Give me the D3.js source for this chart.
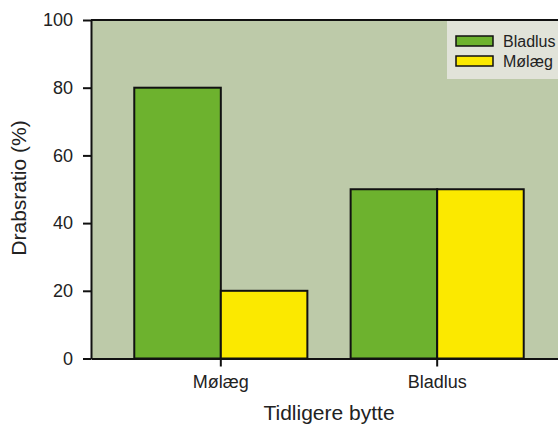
<!DOCTYPE html>
<html>
<head>
<meta charset="utf-8">
<script src="https://cdn.jsdelivr.net/npm/d3@7"></script>
<style>
  body { margin: 0; background: #fff; }
  svg { display: block; font-family: "Liberation Sans", Arial, sans-serif; }
</style>
</head>
<body>
<div id="chart"></div>
<script>
// data
var categories = ['Mølæg', 'Bladlus'];
var seriesNames = ['Bladlus', 'Mølæg'];
var bladlusValues = [80, 50];
var molaegValues = [20, 50];
var yTicks = [0, 20, 40, 60, 80, 100];

var colors = {'Bladlus': '#6db22e', 'Mølæg': '#fbe900'};

var W = 558, H = 426;
var margin = {top: 20, left: 91};
var width = 476, height = 338.5;

var svg = d3.select('#chart').append('svg')
    .attr('width', W)
    .attr('height', H);

var g = svg.append('g')
    .attr('transform', 'translate(' + margin.left + ',' + margin.top + ')');

var x = d3.scaleBand().domain(categories).range([0, width])
    .paddingInner(0.2).paddingOuter(0.2);
var xs = d3.scaleBand().domain(seriesNames).range([0, x.bandwidth()]);
var y = d3.scaleLinear().domain([0, 100]).range([height, 0]);

// plot background
g.append('rect')
    .attr('x', 0).attr('y', 0)
    .attr('width', width).attr('height', height)
    .attr('fill', '#bdcaa9');

var rows = categories.map(function(c, i) {
    return [
        {cat: c, name: 'Bladlus', value: bladlusValues[i]},
        {cat: c, name: 'Mølæg', value: molaegValues[i]}
    ];
});

g.selectAll('.grp')
    .data(rows)
  .enter().append('g')
    .attr('class', 'grp')
    .attr('transform', function(d) { return 'translate(' + x(d[0].cat) + ',0)'; })
  .selectAll('rect')
    .data(function(d) { return d; })
  .enter().append('rect')
    .attr('x', function(d) { return xs(d.name); })
    .attr('y', function(d) { return y(d.value); })
    .attr('width', xs.bandwidth())
    .attr('height', function(d) { return height - y(d.value); })
    .attr('fill', function(d) { return colors[d.name]; })
    .attr('stroke', '#111')
    .attr('stroke-width', 2);

// top frame line
g.append('line')
    .attr('x1', 0).attr('x2', width)
    .attr('y1', 0).attr('y2', 0)
    .attr('stroke', '#111').attr('stroke-width', 2);

// axes
var yAxis = g.append('g')
    .call(d3.axisLeft(y).tickValues(yTicks).tickSize(8).tickPadding(10).tickSizeOuter(0));
var xAxis = g.append('g')
    .attr('transform', 'translate(0,' + height + ')')
    .call(d3.axisBottom(x).tickSize(8).tickPadding(9).tickSizeOuter(0));

[yAxis, xAxis].forEach(function(a) {
    a.select('.domain').attr('stroke', '#111').attr('stroke-width', 2);
    a.selectAll('.tick line').attr('stroke', '#111').attr('stroke-width', 2);
    a.selectAll('.tick text')
        .attr('fill', '#222')
        .style('font-size', '18px')
        .style('font-family', '"Liberation Sans", Arial, sans-serif');
});

// axis titles
svg.append('text')
    .attr('transform', 'translate(26,188) rotate(-90)')
    .attr('text-anchor', 'middle')
    .attr('fill', '#222')
    .style('font-size', '21px')
    .text('Drabsratio (%)');

svg.append('text')
    .attr('x', 329)
    .attr('y', 420)
    .attr('text-anchor', 'middle')
    .attr('fill', '#222')
    .style('font-size', '21px')
    .text('Tidligere bytte');

// legend
var leg = svg.append('g').attr('transform', 'translate(447,21)');
leg.append('rect')
    .attr('x', 0).attr('y', 0)
    .attr('width', 120).attr('height', 58)
    .attr('fill', '#e1e3d9');

var items = leg.selectAll('.item')
    .data(seriesNames)
  .enter().append('g')
    .attr('class', 'item')
    .attr('transform', function(d, i) { return 'translate(9,' + (15 + i * 20) + ')'; });

items.append('rect')
    .attr('width', 37).attr('height', 10)
    .attr('fill', function(d) { return colors[d]; })
    .attr('stroke', '#111')
    .attr('stroke-width', 1.5);

items.append('text')
    .attr('x', 47)
    .attr('y', 5)
    .attr('dy', '0.35em')
    .attr('fill', '#222')
    .style('font-size', '16px')
    .text(function(d) { return d; });
</script>
</body>
</html>
